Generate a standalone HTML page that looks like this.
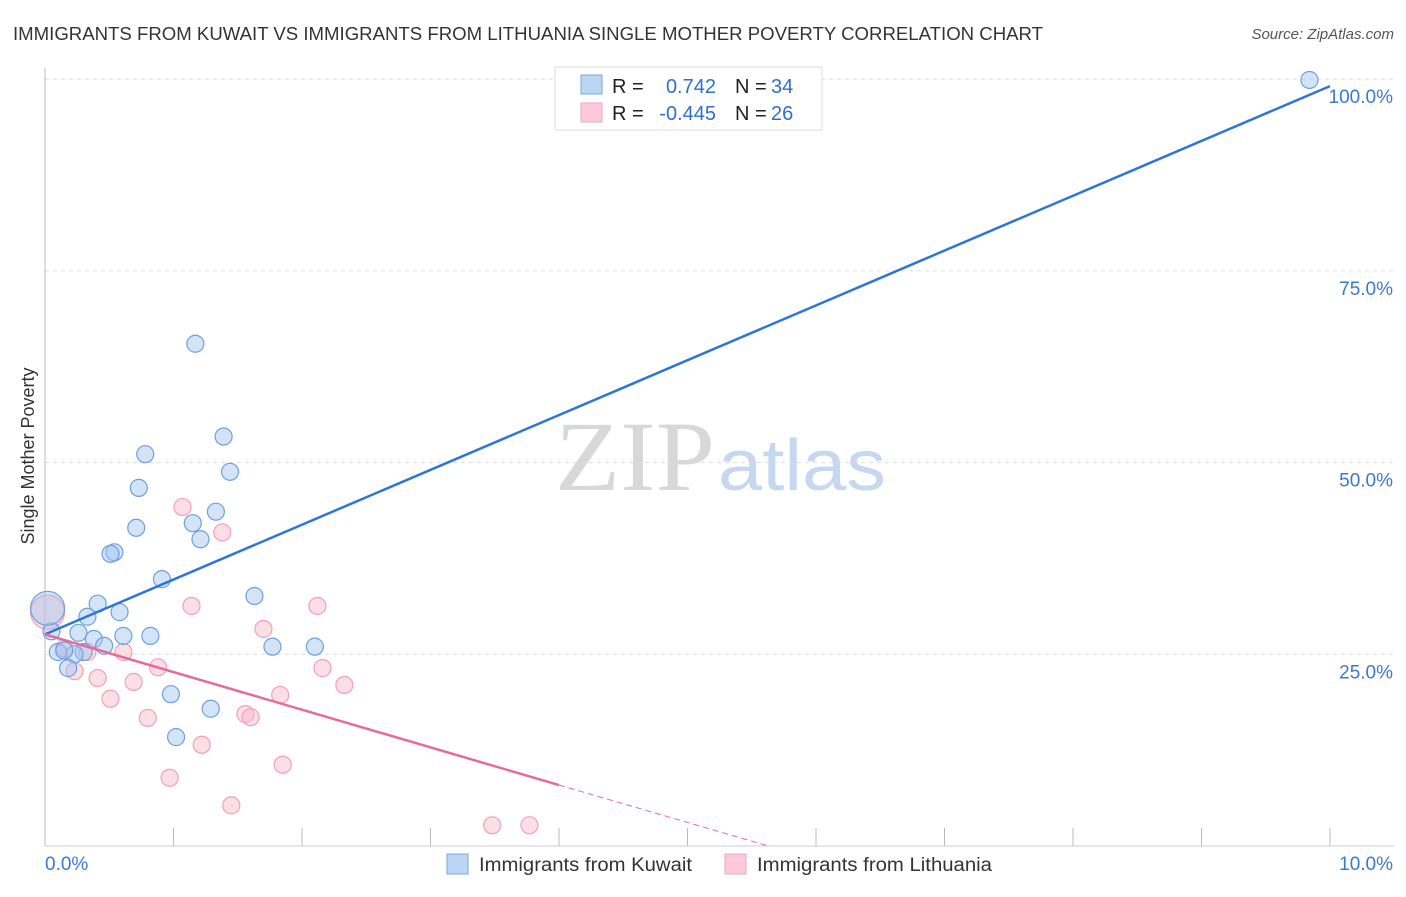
<!DOCTYPE html>
<html><head><meta charset="utf-8"><style>
body{margin:0;background:#fff;font-family:"Liberation Sans",sans-serif;}
svg text{font-family:"Liberation Sans",sans-serif;}
</style></head><body>
<svg id="chart" width="1406" height="892">
<text x="13" y="40" font-size="18" fill="#333" textLength="1030" lengthAdjust="spacingAndGlyphs">IMMIGRANTS FROM KUWAIT VS IMMIGRANTS FROM LITHUANIA SINGLE MOTHER POVERTY CORRELATION CHART</text>
<text x="1394" y="39" font-size="15" fill="#555" font-style="italic" text-anchor="end">Source: ZipAtlas.com</text>
<text x="34" y="456" font-size="18" fill="#333" text-anchor="middle" transform="rotate(-90 34 456)">Single Mother Poverty</text>
<g>
<text x="555" y="490" font-size="100" fill="#d8d8d8" textLength="160" lengthAdjust="spacingAndGlyphs" style="font-family:'Liberation Serif',serif">ZIP</text>
<text x="718" y="490" font-size="72" fill="#c5d8f0" textLength="168" lengthAdjust="spacingAndGlyphs">atlas</text>
</g>
<g id="grid"></g><g id="axes"></g><g id="marks"></g>
<g>
<rect x="555" y="67" width="267" height="63" fill="#fff" stroke="#ddd"/>
<rect x="581" y="75" width="21" height="19" fill="#bcd5f5" stroke="#7aa7e0"/>
<rect x="581" y="103" width="21" height="19" fill="#fcc9d8" stroke="#f0a6bd"/>
<text x="612" y="93" font-size="20" fill="#222">R =</text><text x="716" y="93" font-size="20" fill="#2f6fd0" text-anchor="end">0.742</text>
<text x="735" y="93" font-size="20" fill="#222">N =</text><text x="771" y="93" font-size="20" fill="#2f6fd0">34</text>
<text x="612" y="120" font-size="20" fill="#222">R =</text><text x="716" y="120" font-size="20" fill="#2f6fd0" text-anchor="end">-0.445</text>
<text x="735" y="120" font-size="20" fill="#222">N =</text><text x="771" y="120" font-size="20" fill="#2f6fd0">26</text>
</g>
<g>
<rect x="447" y="854" width="21" height="20" fill="#bcd5f5" stroke="#7aa7e0"/>
<text x="479" y="871" font-size="19" fill="#333" textLength="213" lengthAdjust="spacingAndGlyphs">Immigrants from Kuwait</text>
<rect x="725" y="854" width="21" height="20" fill="#fcc9d8" stroke="#f0a6bd"/>
<text x="757" y="871" font-size="19" fill="#333" textLength="235" lengthAdjust="spacingAndGlyphs">Immigrants from Lithuania</text>
</g>
</svg>
<script>
const kuwaitX=[9.84,1.17,1.39,0.78,1.44,0.73,1.33,0.71,1.15,1.21,0.54,0.51,0.91,1.63,0.41,0.58,0.33,0.05,0.26,0.82,0.61,0.38,0.46,1.77,2.10,0.10,0.30,0.23,0.18,1.29,0.98,1.02,0.15,0.02];
const kuwaitY=[99.9,65.5,53.4,51.1,48.8,46.7,43.6,41.5,42.1,40.0,38.3,38.1,34.8,32.6,31.6,30.5,29.9,28.0,27.8,27.4,27.4,27.0,26.1,26.0,26.0,25.3,25.3,25.0,23.2,17.9,19.8,14.2,25.5,31.0];
const kuwaitBig=[0,0,0,0,0,0,0,0,0,0,0,0,0,0,0,0,0,0,0,0,0,0,0,0,0,0,0,0,0,0,0,0,0,1];
const lithX=[1.07,1.38,1.14,2.12,1.70,0.61,0.33,0.88,2.16,0.23,0.41,0.69,2.33,1.83,0.51,1.56,1.60,0.80,1.22,1.85,0.97,1.45,3.48,3.77,0.15,0.02];
const lithY=[44.2,40.9,31.3,31.3,28.3,25.3,25.3,23.3,23.2,22.8,21.9,21.4,21.0,19.7,19.2,17.2,16.8,16.7,13.2,10.6,8.9,5.3,2.7,2.7,25.8,30.5];
const lithBig=[0,0,0,0,0,0,0,0,0,0,0,0,0,0,0,0,0,0,0,0,0,0,0,0,0,1];
const kuwaitTrend=[[0,27.6],[10,99.1]];
const lithTrend=[[0,27.6],[4,7.95],[5.63,0]];
const yTicks=[25,50,75,100];
const yTickLabels=["25.0%","50.0%","75.0%","100.0%"];
const xTicks=[0,1,2,3,4,5,6,7,8,9,10];

const NS="http://www.w3.org/2000/svg";
const sx=v=>45+v*128.5;
const sy=v=>846-v*7.668;
function mk(tag,attrs,parent){const e=document.createElementNS(NS,tag);for(const k in attrs)e.setAttribute(k,attrs[k]);parent.appendChild(e);return e;}
const grid=document.getElementById('grid'),axes=document.getElementById('axes'),marks=document.getElementById('marks');
yTicks.forEach((t,i)=>{
  const l=mk('line',{x1:45,x2:1394,y1:sy(t),y2:sy(t),stroke:'#ddd','stroke-dasharray':'4 4'},grid);
  
  
  const tx=mk('text',{x:1393,y:sy(t)+24,'font-size':19,fill:'#3a78d6','text-anchor':'end'},axes);
  tx.textContent=yTickLabels[i];
  
  
});
const ax=mk('line',{x1:45,x2:45,y1:68,y2:846,stroke:'#bbb'},axes);


const bx=mk('line',{x1:45,x2:1394,y1:846,y2:846,stroke:'#ccc'},axes);


xTicks.forEach(t=>{if(t===0)return;
  const l=mk('line',{x1:sx(t),x2:sx(t),y1:828,y2:846,stroke:'#bbb'},axes);
  
  
});
const x0=mk('text',{x:45,y:870,'font-size':19,fill:'#3a78d6'},axes);x0.textContent='0.0%';


const x1=mk('text',{x:1393,y:870,'font-size':19,fill:'#3a78d6','text-anchor':'end'},axes);x1.textContent='10.0%';



function pts(xs,ys,big,fill,stroke,name){
  xs.forEach((x,i)=>{
    const c=mk('circle',{cx:sx(x),cy:sy(ys[i]),r:big[i]?17:8.5,fill:fill,stroke:stroke,'stroke-width':1.2},marks);
    
    
  });
}
pts(lithX,lithY,lithBig,'rgba(248,182,202,0.45)','#f0a0b8','lithuania-point');
pts(kuwaitX,kuwaitY,kuwaitBig,'rgba(160,196,240,0.45)','#6f9fe0','kuwait-point');

const kl=mk('line',{x1:sx(kuwaitTrend[0][0]),y1:sy(kuwaitTrend[0][1]),x2:sx(kuwaitTrend[1][0]),y2:sy(kuwaitTrend[1][1]),stroke:'#2b76d8','stroke-width':2.5},marks);


const ll=mk('line',{x1:sx(lithTrend[0][0]),y1:sy(lithTrend[0][1]),x2:sx(lithTrend[1][0]),y2:sy(lithTrend[1][1]),stroke:'#e86b96','stroke-width':2.5},marks);


const ld=mk('line',{x1:sx(lithTrend[1][0]),y1:sy(lithTrend[1][1]),x2:sx(lithTrend[2][0]),y2:sy(lithTrend[2][1]),stroke:'#e86b96','stroke-width':1,'stroke-dasharray':'6 4'},marks);


</script>
</body></html>
